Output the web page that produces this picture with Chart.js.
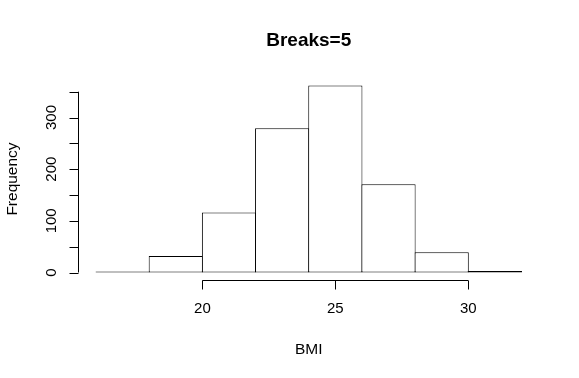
<!DOCTYPE html>
<html>
<head>
<meta charset="utf-8">
<script src="https://cdn.jsdelivr.net/npm/chart.js@4.4.1/dist/chart.umd.min.js"></script>
<style>
  html, body { margin: 0; padding: 0; background: #ffffff; }
</style>
</head>
<body>
<canvas id="bmiHist" width="579" height="378"></canvas>
<script>
// histogram of BMI, breaks every 2 units
const binStart = [16, 18, 20, 22, 24, 26, 28, 30];
const binEnd = [18, 20, 22, 24, 26, 28, 30, 32];
const counts = [2, 32, 116, 279, 362, 171, 39, 3];
const xTicks = [20, 25, 30];
const yTicks = [0, 50, 100, 150, 200, 250, 300, 350];
const yTickLabels = ["0", "", "100", "", "200", "", "300", ""];
const titleText = "Breaks=5";
const xTitle = "BMI";
const yTitle = "Frequency";

const fontFamily = "'Liberation Sans', Arial, Helvetica, sans-serif";

let histData = [];
for (let i = 0; i < counts.length; i++) {
  histData.push({ x: (binStart[i] + binEnd[i]) / 2, y: counts[i] });
}

// R style axes: line only over the tick range, ticks pointing outward
const baseAxes = {
  id: "baseAxes",
  afterDraw(chart) {
    let ctx = chart.ctx;
    let area = chart.chartArea;
    let xs = chart.scales.x;
    let ys = chart.scales.y;
    ctx.save();
    ctx.strokeStyle = "#000000";
    ctx.fillStyle = "#000000";
    ctx.lineWidth = 1;

    // x axis
    let ax = area.bottom + 0.5;
    ctx.beginPath();
    ctx.moveTo(xs.getPixelForValue(xTicks[0]), ax);
    ctx.lineTo(xs.getPixelForValue(xTicks[xTicks.length - 1]), ax);
    for (let i = 0; i < xTicks.length; i++) {
      let px = Math.round(xs.getPixelForValue(xTicks[i])) + 0.5;
      ctx.moveTo(px, ax);
      ctx.lineTo(px, ax + 9);
    }
    ctx.stroke();
    ctx.font = "15px " + fontFamily;
    ctx.textAlign = "center";
    ctx.textBaseline = "middle";
    for (let i = 0; i < xTicks.length; i++) {
      ctx.fillText(String(xTicks[i]), xs.getPixelForValue(xTicks[i]), 309);
    }

    // y axis
    let ay = area.left - 0.5;
    ctx.beginPath();
    ctx.moveTo(ay, ys.getPixelForValue(yTicks[0]));
    ctx.lineTo(ay, ys.getPixelForValue(yTicks[yTicks.length - 1]));
    for (let i = 0; i < yTicks.length; i++) {
      let py = Math.round(ys.getPixelForValue(yTicks[i])) + 0.5;
      ctx.moveTo(ay, py);
      ctx.lineTo(ay - 9, py);
    }
    ctx.stroke();
    for (let i = 0; i < yTicks.length; i++) {
      if (yTickLabels[i] === "") continue;
      ctx.save();
      ctx.translate(52, ys.getPixelForValue(yTicks[i]));
      ctx.rotate(-Math.PI / 2);
      ctx.fillText(yTickLabels[i], 0, 0);
      ctx.restore();
    }

    // titles
    let cx = (area.left + area.right) / 2;
    ctx.font = "15.5px " + fontFamily;
    ctx.fillText(xTitle, cx, 350);
    ctx.save();
    ctx.translate(13, (area.top + area.bottom) / 2);
    ctx.rotate(-Math.PI / 2);
    ctx.fillText(yTitle, 0, 0);
    ctx.restore();
    ctx.font = "bold 19px " + fontFamily;
    ctx.fillText(titleText, cx, 41);
    ctx.restore();
  },
};

let chartHist = new Chart("bmiHist", {
  type: "bar",
  data: {
    datasets: [
      {
        data: histData,
        backgroundColor: "#ffffff",
        borderColor: "#000000",
        borderWidth: 1,
        borderSkipped: false,
        // slightly over 1 so neighbouring borders share one pixel
        barPercentage: 1.019,
        categoryPercentage: 1,
      },
    ],
  },
  options: {
    responsive: false,
    animation: false,
    layout: {
      padding: { left: 79, right: 40.5, top: 78, bottom: 98 },
    },
    scales: {
      x: { type: "linear", min: 15.36, max: 32.64, offset: false, display: false },
      y: { type: "linear", min: -14.5, max: 376.5, display: false },
    },
    plugins: {
      legend: { display: false },
      tooltip: { enabled: false },
    },
  },
  plugins: [baseAxes],
});
</script>
</body>
</html>
